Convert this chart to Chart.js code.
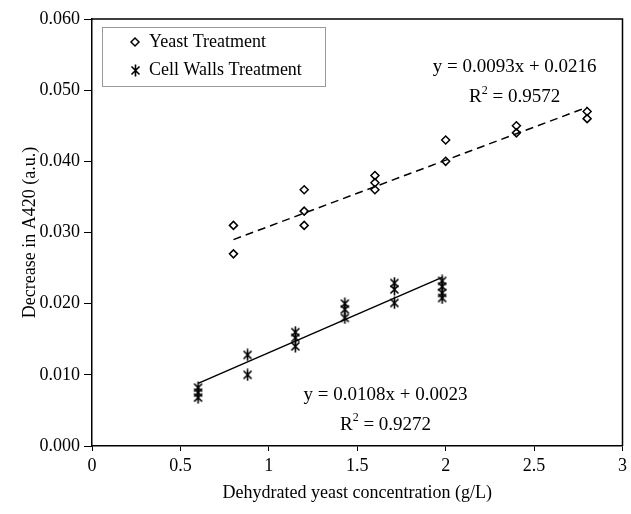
<!DOCTYPE html>
<html>
<head>
<meta charset="utf-8">
<script src="https://cdn.jsdelivr.net/npm/chart.js@4.4.1/dist/chart.umd.min.js"></script>
<style>
  html, body { margin: 0; padding: 0; background: #fff; }
  #wrap { width: 631px; height: 514px; }
</style>
</head>
<body>
<div id="wrap"><canvas id="grafico" width="631" height="514"></canvas></div>
<script>
// data
let yeastX = [0.8, 0.8, 1.2, 1.2, 1.2, 1.6, 1.6, 1.6, 2.0, 2.0, 2.4, 2.4, 2.8, 2.8];
let yeastY = [0.031, 0.027, 0.036, 0.033, 0.031, 0.038, 0.037, 0.036, 0.043, 0.040, 0.045, 0.044, 0.047, 0.046];

let wallsX = [0.6, 0.6, 0.6, 0.88, 0.88, 1.15, 1.15, 1.15, 1.43, 1.43, 1.43, 1.71, 1.71, 1.71, 1.98, 1.98, 1.98, 1.98];
let wallsY = [0.0082, 0.0075, 0.0068, 0.0128, 0.0100, 0.0160, 0.0152, 0.0140, 0.0200, 0.0192, 0.0180, 0.0229, 0.0220, 0.0201, 0.0232, 0.0224, 0.0215, 0.0208];

// trend line end points
let yeastFitX = [0.8, 2.8];
let yeastFitY = [0.0290, 0.0476];
let wallsFitX = [0.6, 1.98];
let wallsFitY = [0.0088, 0.0237];

let legendLabels = ['Yeast Treatment', 'Cell Walls Treatment'];
let eqYeast = ['y = 0.0093x + 0.0216', '0.9572'];
let eqWalls = ['y = 0.0108x + 0.0023', '0.9272'];

let xTitle = 'Dehydrated yeast concentration (g/L)';
let yTitle = 'Decrease in A420 (a.u.)';

const serif = '"Liberation Serif", "Times New Roman", serif';

function toPoints(xs, ys)
{
  let out = [];
  for (let i = 0; i < xs.length; i++) out.push({x: xs[i], y: ys[i]});
  return out;
}

// asterisk marker like the excel one
function makeStar()
{
  let c = document.createElement('canvas');
  c.width = 13; c.height = 13;
  let g = c.getContext('2d');
  g.strokeStyle = '#000';
  g.lineWidth = 1.6;
  g.beginPath();
  g.moveTo(2.5, 2.5); g.lineTo(10.5, 10.5);
  g.moveTo(10.5, 2.5); g.lineTo(2.5, 10.5);
  g.moveTo(6.5, 0.5); g.lineTo(6.5, 12.5);
  g.stroke();
  return c;
}
const starImg = makeStar();

function drawDiamond(ctx, x, y, r)
{
  ctx.beginPath();
  ctx.moveTo(x, y - r);
  ctx.lineTo(x + r, y);
  ctx.lineTo(x, y + r);
  ctx.lineTo(x - r, y);
  ctx.closePath();
  ctx.stroke();
}

const extras = {
  id: 'extras',
  afterDraw(chart) {
    const ctx = chart.ctx;
    const a = chart.chartArea;
    const sx = chart.scales.x, sy = chart.scales.y;
    ctx.save();
    // top + right frame
    ctx.strokeStyle = '#000';
    ctx.lineWidth = 1.5;
    ctx.beginPath();
    ctx.moveTo(a.left, a.top);
    ctx.lineTo(a.right, a.top);
    ctx.lineTo(a.right, a.bottom);
    ctx.stroke();

    // legend box
    ctx.strokeStyle = '#999';
    ctx.lineWidth = 1;
    ctx.strokeRect(102.5, 27.5, 223, 59);
    ctx.fillStyle = '#000';
    ctx.font = '18px ' + serif;
    ctx.textBaseline = 'middle';
    ctx.textAlign = 'left';
    ctx.strokeStyle = '#000';
    ctx.lineWidth = 1.5;
    drawDiamond(ctx, 135, 42, 4);
    ctx.fillText(legendLabels[0], 149, 42);
    ctx.drawImage(starImg, 129, 64);
    ctx.fillText(legendLabels[1], 149, 70);

    // equations
    const big = '19px ' + serif, small = '12px ' + serif;
    ctx.textAlign = 'center';
    ctx.font = big;
    function eq(lines, xv, yv, dy)
    {
      let px = sx.getPixelForValue(xv), py = sy.getPixelForValue(yv);
      ctx.fillText(lines[0], px, py);
      let r = 'R', rest = ' = ' + lines[1];
      let wr = ctx.measureText(r).width, wrest = ctx.measureText(rest).width;
      ctx.font = small;
      let w2 = ctx.measureText('2').width;
      ctx.font = big;
      let x0 = px - (wr + w2 + wrest) / 2;
      ctx.textAlign = 'left';
      ctx.fillText(r, x0, py + dy);
      ctx.font = small;
      ctx.fillText('2', x0 + wr, py + dy - 7);
      ctx.font = big;
      ctx.fillText(rest, x0 + wr + w2, py + dy);
      ctx.textAlign = 'center';
    }
    eq(eqYeast, 2.39, 0.0532, 30);
    eq(eqWalls, 1.66, 0.0072, 30);
    ctx.restore();
  }
};

new Chart(document.getElementById('grafico'), {
  type: 'scatter',
  data: {
    datasets: [
      {
        label: legendLabels[0],
        data: toPoints(yeastX, yeastY),
        pointStyle: 'rectRot',
        pointRadius: 4,
        borderColor: '#000',
        backgroundColor: 'rgba(0,0,0,0)',
        borderWidth: 1.5
      },
      {
        label: legendLabels[1],
        data: toPoints(wallsX, wallsY),
        pointStyle: starImg,
        pointRadius: 6,
        borderColor: '#000',
        backgroundColor: '#000'
      },
      {
        label: 'fit1',
        data: toPoints(yeastFitX, yeastFitY),
        showLine: true,
        pointRadius: 0,
        borderColor: '#000',
        borderWidth: 1.5,
        borderDash: [8, 5]
      },
      {
        label: 'fit2',
        data: toPoints(wallsFitX, wallsFitY),
        showLine: true,
        pointRadius: 0,
        borderColor: '#000',
        borderWidth: 1.5
      }
    ]
  },
  options: {
    responsive: false,
    animation: false,
    layout: { padding: { top: 19, right: 7, left: 0, bottom: 0 } },
    plugins: {
      legend: { display: false },
      tooltip: { enabled: false }
    },
    scales: {
      x: {
        type: 'linear',
        min: 0, max: 3,
        ticks: {
          stepSize: 0.5,
          color: '#000',
          font: { family: serif, size: 18 },
          padding: 4,
          maxRotation: 0,
          callback: v => String(v)
        },
        grid: { drawOnChartArea: false, drawTicks: true, tickLength: 5, color: '#000' },
        border: { display: true, color: '#000', width: 1.5 },
        title: {
          display: true, text: xTitle, color: '#000',
          font: { family: serif, size: 18 }, padding: { top: 10, bottom: 10 }
        },
        afterFit: s => { s.height = 68; }
      },
      y: {
        min: 0, max: 0.06,
        ticks: {
          stepSize: 0.01,
          color: '#000',
          font: { family: serif, size: 18 },
          padding: 4,
          callback: v => v.toFixed(3)
        },
        grid: { drawOnChartArea: false, drawTicks: true, tickLength: 8, color: '#000' },
        border: { display: true, color: '#000', width: 1.5 },
        title: {
          display: true, text: yTitle, color: '#000',
          font: { family: serif, size: 18 }, padding: { top: 19, bottom: 0 }
        },
        afterFit: s => { s.width = 92; }
      }
    }
  },
  plugins: [extras]
});
</script>
</body>
</html>
